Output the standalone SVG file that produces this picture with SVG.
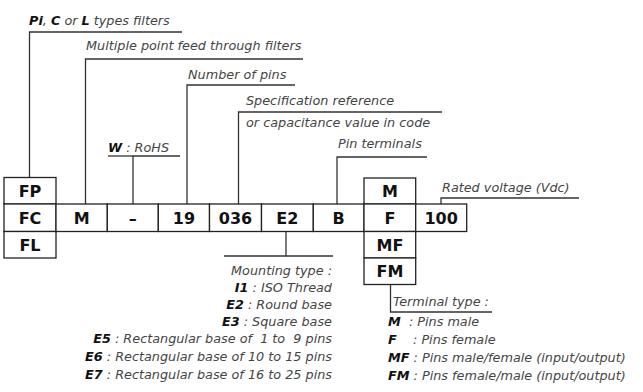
<svg xmlns="http://www.w3.org/2000/svg" width="643" height="392" viewBox="0 0 643 392">
<style>
.box{fill:#fff;stroke:#222;stroke-width:1.3}
.bt{font-family:"DejaVu Sans",sans-serif;font-weight:bold;font-size:16px;fill:#111;text-anchor:middle}
.lab{font-family:"DejaVu Sans",sans-serif;font-style:italic;font-size:12.8px;fill:#444;white-space:pre}
.b{font-weight:bold;fill:#111}
.ln{fill:none;stroke:#333;stroke-width:1.3}
.end{text-anchor:end}
</style>
<rect width="643" height="392" fill="#fff"/>
<g id="connectors">
<polyline class="ln" points="29.5,177.5 29.5,32 182,32"/>
<polyline class="ln" points="85.5,204 85.5,59 303,59"/>
<polyline class="ln" points="133,204 133,156 180,156"/>
<line class="ln" x1="108" y1="156" x2="133" y2="156"/>
<polyline class="ln" points="187,204 187,85 295,85"/>
<polyline class="ln" points="238.5,204 238.5,112 442,112"/>
<polyline class="ln" points="337,204 337,157 427,157"/>
<polyline class="ln" points="441,204 441,198 579,198"/>
<polyline class="ln" points="286,231.5 286,256 224,256"/>
<line class="ln" x1="286" y1="256" x2="333" y2="256"/>
<polyline class="ln" points="390.5,284.5 390.5,312 492,312"/>
</g>
<g id="node-FP"><rect class="box" x="4" y="177.5" width="52" height="26.5"/><text class="bt" x="30" y="196.6">FP</text></g>
<g id="node-FC"><rect class="box" x="4" y="204" width="52" height="27.5"/><text class="bt" x="30" y="223.6">FC</text></g>
<g id="node-FL"><rect class="box" x="4" y="231.5" width="52" height="26.5"/><text class="bt" x="30" y="250.6">FL</text></g>
<g id="node-M"><rect class="box" x="56" y="204" width="51.3" height="27.5"/><text class="bt" x="81.7" y="223.6">M</text></g>
<g id="node-dash"><rect class="box" x="107.3" y="204" width="51" height="27.5"/><text class="bt" x="132.8" y="223.6">–</text></g>
<g id="node-19"><rect class="box" x="158.3" y="204" width="51.2" height="27.5"/><text class="bt" x="183.9" y="223.6">19</text></g>
<g id="node-036"><rect class="box" x="209.5" y="204" width="52" height="27.5"/><text class="bt" x="235.5" y="223.6">036</text></g>
<g id="node-E2"><rect class="box" x="261.5" y="204" width="51.8" height="27.5"/><text class="bt" x="287.4" y="223.6">E2</text></g>
<g id="node-B"><rect class="box" x="313.3" y="204" width="50.7" height="27.5"/><text class="bt" x="338.7" y="223.6">B</text></g>
<g id="node-Mt"><rect class="box" x="364" y="178" width="51.7" height="26"/><text class="bt" x="389.9" y="196.8">M</text></g>
<g id="node-F"><rect class="box" x="364" y="204" width="51.7" height="27.5"/><text class="bt" x="389.9" y="223.6">F</text></g>
<g id="node-MF"><rect class="box" x="364" y="231.5" width="51.7" height="26.5"/><text class="bt" x="389.9" y="250.6">MF</text></g>
<g id="node-FM"><rect class="box" x="364" y="258" width="51.7" height="26.5"/><text class="bt" x="389.9" y="277">FM</text></g>
<g id="node-100"><rect class="box" x="415.7" y="204" width="51" height="27.5"/><text class="bt" x="441.2" y="223.6">100</text></g>
<g id="label-types"><text class="lab" x="29" y="25"><tspan class="b">Pi</tspan>, <tspan class="b">C</tspan> or <tspan class="b">L</tspan> types filters</text></g>
<g id="label-multiple"><text class="lab" x="86" y="50">Multiple point feed through filters</text></g>
<g id="label-pins"><text class="lab" x="188" y="79">Number of pins</text></g>
<g id="label-spec"><text class="lab" x="246" y="105">Specification reference</text><text class="lab" x="246" y="127">or capacitance value in code</text></g>
<g id="label-rohs"><text class="lab" x="108" y="152"><tspan class="b">W</tspan> : RoHS</text></g>
<g id="label-terminals"><text class="lab" x="338" y="148">Pin terminals</text></g>
<g id="label-voltage"><text class="lab" x="442" y="192">Rated voltage (Vdc)</text></g>
<g id="label-mounting">
<text class="lab end" x="332" y="275">Mounting type :</text>
<text class="lab end" x="332" y="292"><tspan class="b">I1</tspan> : ISO Thread</text>
<text class="lab end" x="332" y="309"><tspan class="b">E2</tspan> : Round base</text>
<text class="lab end" x="332" y="326"><tspan class="b">E3</tspan> : Square base</text>
<text class="lab end" x="332" y="343"><tspan class="b">E5</tspan> : Rectangular base of  1 to  9 pins</text>
<text class="lab end" x="332" y="361"><tspan class="b">E6</tspan> : Rectangular base of 10 to 15 pins</text>
<text class="lab end" x="332" y="379"><tspan class="b">E7</tspan> : Rectangular base of 16 to 25 pins</text>
</g>
<g id="label-terminal-type">
<text class="lab" x="393" y="306">Terminal type :</text>
<text class="lab" x="388" y="326"><tspan class="b">M</tspan>  : Pins male</text>
<text class="lab" x="388" y="344"><tspan class="b">F</tspan>    : Pins female</text>
<text class="lab" x="388" y="362"><tspan class="b">MF</tspan> : Pins male/female (input/output)</text>
<text class="lab" x="388" y="380"><tspan class="b">FM</tspan> : Pins female/male (input/output)</text>
</g>
</svg>
